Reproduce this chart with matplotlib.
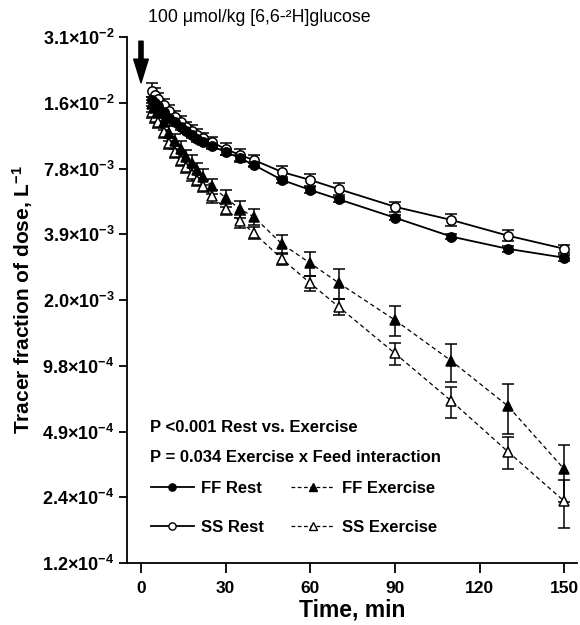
import matplotlib
matplotlib.use("Agg")
import matplotlib.pyplot as plt
from matplotlib.lines import Line2D
from matplotlib.ticker import FuncFormatter, FixedLocator
import math

plt.rcParams['font.family'] = ['Liberation Sans', 'DejaVu Sans']
plt.rcParams['mathtext.fontset'] = 'custom'
plt.rcParams['mathtext.rm'] = 'Liberation Sans:bold'
plt.rcParams['mathtext.bf'] = 'Liberation Sans:bold'
plt.rcParams['mathtext.it'] = 'Liberation Sans:bold'

# ---- data ----
time = [4, 5, 6, 8, 10, 12, 14, 16, 18, 20, 22, 25, 30, 35, 40, 50, 60, 70, 90, 110, 130, 150]

ff_rest = [0.01609, 0.01558, 0.01510, 0.01417, 0.01331, 0.01276, 0.01210, 0.01160, 0.01112, 0.01066,
           0.01033, 0.00990, 0.00930, 0.00873, 0.00811, 0.00692, 0.00623, 0.00565, 0.00465, 0.00381,
           0.00335, 0.00305]
ff_rest_err = [0.0005, 0.0005, 0.0005, 0.0004, 0.0004, 0.0004, 0.0004, 0.0003, 0.0003, 0.0003,
               0.0003, 0.0003, 0.0003, 0.0003, 0.0002, 0.0002, 0.0002, 0.00015, 0.00012, 0.0001,
               0.0001, 0.0001]

ss_rest = [0.01768, 0.01696, 0.01626, 0.01526, 0.01433, 0.01345, 0.01276, 0.01210, 0.01160, 0.01112,
           0.01078, 0.01033, 0.00960, 0.00901, 0.00854, 0.00753, 0.00692, 0.00629, 0.00522, 0.00454,
           0.00385, 0.00335]
ss_rest_err = [0.0016, 0.0013, 0.0011, 0.0010, 0.0009, 0.0008, 0.0008, 0.0007, 0.0007, 0.0007,
               0.0006, 0.0006, 0.0006, 0.0006, 0.0005, 0.0005, 0.00045, 0.00039, 0.00029, 0.00028,
               0.00023, 0.00015]

ff_ex = [0.01542, 0.01478, 0.01403, 0.01276, 0.01136, 0.01044, 0.00960, 0.00882, 0.00828, 0.00769,
         0.00714, 0.00650, 0.00573, 0.00510, 0.00469, 0.00352, 0.00288, 0.00234, 0.00158, 0.001027,
         0.000639, 0.000328]
ff_ex_err = [0.0012, 0.0011, 0.0011, 0.0010, 0.0009, 0.0008, 0.0008, 0.0007, 0.0007, 0.0006,
             0.0006, 0.0005, 0.0005, 0.00045, 0.0004, 0.00035, 0.00037, 0.00036, 0.00025, 0.0002,
             0.000164, 0.000095]

ss_ex = [0.01417, 0.01345, 0.01276, 0.01148, 0.01022, 0.00930, 0.00854, 0.00794, 0.00737, 0.00692,
         0.00650, 0.00585, 0.00510, 0.00449, 0.00396, 0.00301, 0.00233, 0.00182, 0.001113, 0.000673,
         0.000395, 0.000234]
ss_ex_err = [0.0009, 0.0008, 0.0008, 0.0007, 0.0006, 0.0006, 0.0005, 0.0005, 0.0005, 0.0004,
             0.0004, 0.0004, 0.0003, 0.0003, 0.00025, 0.00018, 0.00019, 0.00016, 0.000125, 0.00011,
             0.000067, 0.000058]

x_ticks = [0, 30, 60, 90, 120, 150]
y_ticks = [2.0 ** k for k in range(-13, -4)]

legend_labels = ["FF Rest", "SS Rest", "FF Exercise", "SS Exercise"]
annot_text = "100 \u03bcmol/kg [6,6-\u00b2H]glucose"
p_text1 = "P <0.001 Rest vs. Exercise"
p_text2 = "P = 0.034 Exercise x Feed interaction"

# ---- figure ----
fig = plt.figure(figsize=(5.8, 6.25), dpi=100)
ax = fig.add_axes([127 / 580, 1 - 563 / 625, 450 / 580, 526 / 625])

ms = 6.7
cap = 4.3
common = dict(color='black', capsize=cap, elinewidth=1.1, capthick=1.1, markersize=ms,
              markeredgewidth=1.1, markeredgecolor='black')

ax.errorbar(time, ss_ex, yerr=ss_ex_err, fmt='^', linestyle=(0, (3.5, 2.5)), linewidth=0.9,
            markerfacecolor='white', zorder=3, **common)
ax.errorbar(time, ff_ex, yerr=ff_ex_err, fmt='^', linestyle=(0, (3.5, 2.5)), linewidth=0.9,
            markerfacecolor='black', zorder=3, **common)
ax.errorbar(time, ss_rest, yerr=ss_rest_err, fmt='o', linestyle='-', linewidth=1.3,
            markerfacecolor='white', zorder=4, **common)
ax.errorbar(time, ff_rest, yerr=ff_rest_err, fmt='o', linestyle='-', linewidth=1.3,
            markerfacecolor='black', zorder=4, **common)

ax.set_yscale('log', base=2)
ax.set_ylim(y_ticks[0], y_ticks[-1])
ax.set_xlim(-4.96, 154.5)
ax.yaxis.set_major_locator(FixedLocator(y_ticks))
ax.yaxis.set_minor_locator(FixedLocator([]))
ax.set_xticks(x_ticks)


def fmt(v, pos):
    e = int(math.floor(math.log10(v)))
    m = v / 10 ** e
    return r'$\mathbf{%.1f{\times}10^{%d}}$' % (m, e)


ax.yaxis.set_major_formatter(FuncFormatter(fmt))

for s in ['top', 'right']:
    ax.spines[s].set_visible(False)
for s in ['left', 'bottom']:
    ax.spines[s].set_linewidth(1.3)

ax.tick_params(axis='both', direction='out', width=1.3)
ax.tick_params(axis='x', length=7, pad=6, labelsize=12.5)
ax.tick_params(axis='y', length=6, pad=3, labelsize=13)
for lab in ax.get_xticklabels():
    lab.set_fontweight('bold')

ax.set_xlabel("Time, min", fontsize=16.5, fontweight='bold', labelpad=2)
ax.set_ylabel(r"Tracer fraction of dose, L$^{\mathbf{-1}}$", fontsize=15, fontweight='bold', labelpad=5)

# arrow at injection time
ax.annotate('', xy=(0, 0.913), xytext=(0, 0.992),
            xycoords=('data', 'axes fraction'), textcoords=('data', 'axes fraction'),
            arrowprops=dict(width=3.0, headwidth=10.5, headlength=17, color='black', shrink=0),
            annotation_clip=False)

fig.text(148 / 580, 1 - 18 / 625, annot_text, fontsize=12.8, va='center', ha='left')

ax.text((150 - 127) / 450, (563 - 427) / 526, p_text1, transform=ax.transAxes, fontsize=12,
        fontweight='bold', va='center', ha='left')
ax.text((150 - 127) / 450, (563 - 458) / 526, p_text2, transform=ax.transAxes, fontsize=12,
        fontweight='bold', va='center', ha='left')

handles = [
    Line2D([], [], color='black', lw=1.3, marker='o', markersize=5.2, markerfacecolor='black', markeredgecolor='black'),
    Line2D([], [], color='black', lw=1.3, marker='o', markersize=5.2, markerfacecolor='white', markeredgecolor='black'),
    Line2D([], [], color='black', lw=0.9, linestyle=(0, (3, 2)), marker='^', markersize=5.2, markerfacecolor='black', markeredgecolor='black'),
    Line2D([], [], color='black', lw=0.9, linestyle=(0, (3, 2)), marker='^', markersize=5.2, markerfacecolor='white', markeredgecolor='black'),
]
leg = ax.legend(handles, legend_labels, ncol=2, loc='upper left',
                bbox_to_anchor=((150.5 - 127) / 450, (563 - 481) / 526),
                frameon=False, prop={'weight': 'bold', 'size': 12},
                handlelength=2.6, handletextpad=0.45, columnspacing=1.6,
                labelspacing=1.45, borderpad=0, borderaxespad=0)

fig.savefig('out.png', dpi=100)
